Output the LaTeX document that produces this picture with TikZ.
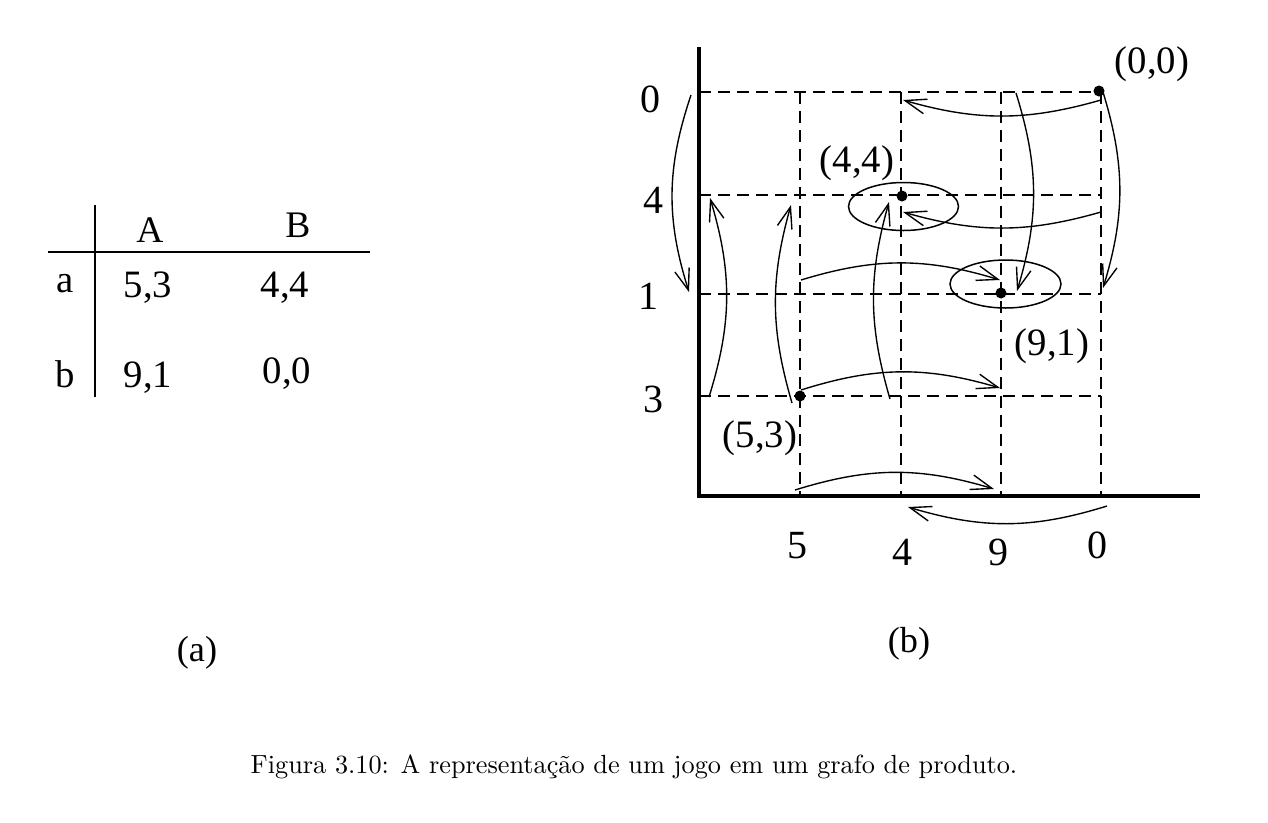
\documentclass[tikz,border=0pt]{standalone}
\usepackage{fontspec}
\newfontfamily\timesfont{Liberation Serif}
\usetikzlibrary{arrows.meta}

\begin{document}
\begin{tikzpicture}[x=0.4pt,y=-0.4pt,
    grid/.style={dash pattern=on 4.8pt off 2.8pt, line width=0.5pt},
    axis/.style={line width=1.3pt},
    rule/.style={line width=0.6pt},
    move/.style={-{Straight Barb[length=8.5pt,width=6pt]}, line width=0.55pt},
    tick/.style={font=\timesfont\fontsize{16}{18}\selectfont, anchor=base, inner sep=0pt},
    pay/.style={font=\timesfont\fontsize{15.5}{18}\selectfont, anchor=base, inner sep=0pt},
    cell/.style={font=\timesfont\fontsize{15.5}{17}\selectfont, anchor=base, inner sep=0pt},
    head/.style={font=\timesfont\fontsize{15}{17}\selectfont, anchor=base, inner sep=0pt},
    sub/.style={font=\timesfont\fontsize{14.5}{17}\selectfont, anchor=base, inner sep=0pt},
    dot/.style={circle, fill, inner sep=0pt, minimum size=4.4pt}]
  \useasboundingbox (0,0) rectangle (1268,822);

  % (a) the game
  \draw[rule] (95,205) -- (95,397);
  \draw[rule] (48,252) -- (370,252);
  \node[head] (hA) at (150,242) {A};
  \node[head] (hB) at (298,237) {B};
  \node[cell] (ra) at (65,292) {a};
  \node[cell] (rb) at (65,387) {b};
  \node[cell] (aA) at (148,297) {5,3};
  \node[cell] (aB) at (285,297) {4,4};
  \node[cell] (bA) at (148,387) {9,1};
  \node[cell] (bB) at (287,383) {0,0};
  \node[sub] (capa) at (197,661) {(a)};

  % (b) the product graph
  \coordinate (o) at (699,496);
  \draw[axis] (699,47) -- (o) -- (1200,496);
  \foreach \y/\n in {92/0,195/4,294/1,396/3}
    \draw[grid] (699,\y) coordinate (r\n) -- (1101,\y);
  \foreach \x/\n in {800/5,901/4,1001/9,1101/0}
    \draw[grid] (\x,92) coordinate (c\n) -- (\x,496);

  \node[tick] (l0) at (650,112) {0};
  \node[tick] (l4) at (653,213) {4};
  \node[tick] (l1) at (648,309) {1};
  \node[tick] (l3) at (653,412) {3};
  \node[tick] (k5) at (797,558) {5};
  \node[tick] (k4) at (902,565) {4};
  \node[tick] (k9) at (998,565) {9};
  \node[tick] (k0) at (1097,558) {0};

  \node[dot] (p00) at (1099,91) {};
  \node[dot] (p44) at (902,196) {};
  \node[dot] (p91) at (1001,293) {};
  \node[dot] (p53) at (800,396) {};
  \node[pay] (t00) at (1152,73) {(0,0)};
  \node[pay] (t44) at (857,172) {(4,4)};
  \node[pay] (t91) at (1052,355) {(9,1)};
  \node[pay] (t53) at (760,447) {(5,3)};

  \draw[rule] (903.5,206.5) ellipse [x radius=22pt, y radius=9.6pt];
  \draw[rule] (1005.5,284) ellipse [x radius=22.2pt, y radius=9.6pt];

  \coordinate (u1) at (1101,100);  \coordinate (v1) at (903,100);
  \coordinate (u2) at (1103,92);   \coordinate (v2) at (1103,288);
  \coordinate (u3) at (1016,93);   \coordinate (v3) at (1017,291);
  \coordinate (u4) at (1101,212);  \coordinate (v4) at (903,212);
  \coordinate (u5) at (801,280);   \coordinate (v5) at (1000,280);
  \coordinate (u6) at (801,390);   \coordinate (v6) at (1000,388);
  \coordinate (u7) at (795,490);   \coordinate (v7) at (994,489);
  \coordinate (u8) at (1107,506);  \coordinate (v8) at (908,507);
  \coordinate (u9) at (691,95);    \coordinate (v9) at (689,292);
  \coordinate (u10) at (709,397);  \coordinate (v10) at (710,198);
  \coordinate (u11) at (792,403);  \coordinate (v11) at (791,205);
  \coordinate (u12) at (890,399);  \coordinate (v12) at (889,202);

  \draw[move] (u1) to[bend left=16] (v1);
  \draw[move] (u2) to[bend left=17] (v2);
  \draw[move] (u3) to[bend left=17] (v3);
  \draw[move] (u4) to[bend left=16] (v4);
  \draw[move] (u5) to[bend left=17] (v5);
  \draw[move] (u6) to[bend left=17] (v6);
  \draw[move] (u7) to[bend left=17] (v7);
  \draw[move] (u8) to[bend left=17] (v8);
  \draw[move] (u9) to[bend right=18] (v9);
  \draw[move] (u10) to[bend right=17] (v10);
  \draw[move] (u11) to[bend left=16] (v11);
  \draw[move] (u12) to[bend left=16] (v12);

  \node[sub] (capb) at (909,652) {(b)};
  \node[font=\fontsize{10.5}{13}\selectfont, anchor=base, inner sep=0pt] (cap) at (634,773)
    {Figura 3.10: A representação de um jogo em um grafo de produto.};
\end{tikzpicture}
\end{document}
